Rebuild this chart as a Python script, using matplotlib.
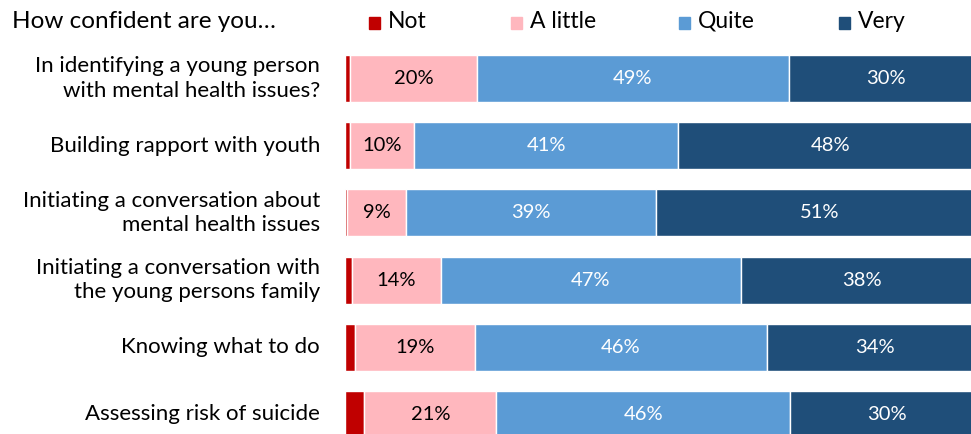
# coding=utf-8
"""
Barras apiladas: confianza en salud mental juvenil
"""

import numpy as np
import matplotlib.pyplot as plt
from matplotlib.patches import Rectangle

# Datos
categorias = [
    "In identifying a young person\nwith mental health issues?",
    "Building rapport with youth",
    "Initiating a conversation about\nmental health issues",
    "Initiating a conversation with\nthe young persons family",
    "Knowing what to do",
    "Assessing risk of suicide",
]
series = ["Not", "A little", "Quite", "Very"]
no_val = [0.8, 0.9, 0.35, 1.25, 1.6, 3.1]
poco_val = [20.0, 10.0, 9.3, 13.8, 18.8, 20.7]
bastante_val = [48.8, 41.4, 39.2, 47.1, 45.8, 46.1]
muy_val = [30.4, 47.7, 51.1, 37.8, 33.8, 30.1]

colores = ["#C00000", "#FFB7BE", "#5B9BD5", "#1F4E79"]
color_texto = [None, "black", "white", "white"]

plt.rcParams['font.family'] = ['Lato', 'DejaVu Sans']

W, H = 971, 434
fig = plt.figure(figsize=(W / 100.0, H / 100.0), dpi=100)

# Eje: barras desde x=344.5 px, 6.38 px por punto porcentual
x0 = 344.5
escala = 6.38
ax = fig.add_axes([x0 / W, 0.0, 1 - x0 / W, 1.0])

paso = 67.2
y0 = 78.5
ypos = np.arange(len(categorias))
alto = 47.0 / paso

valores = [no_val, poco_val, bastante_val, muy_val]
izq = np.zeros(len(categorias))
for k, vals in enumerate(valores):
    vals = np.array(vals, dtype=float)
    ax.barh(ypos, vals, left=izq, height=alto, color=colores[k],
            edgecolor="white", linewidth=1.0)
    if color_texto[k] is not None:
        for i, v in enumerate(vals):
            ax.text(izq[i] + v / 2.0, ypos[i], "%d%%" % round(v),
                    ha="center", va="center", fontsize=14.5,
                    color=color_texto[k])
    izq += vals

ax.set_xlim(0, (W - x0) / escala)
ax.set_ylim((H - y0) / paso, -y0 / paso)
ax.axis("off")

# Etiquetas de categoria
for i, cat in enumerate(categorias):
    fig.text(320.0 / W, 1 - (y0 + paso * i) / H, cat, ha="right",
             va="center", fontsize=16, linespacing=1.3)

# Titulo y leyenda
fig.text(12.0 / W, 1 - 21.0 / H, u"How confident are you\u2026", ha="left",
         va="center", fontsize=17.5)
xs_leyenda = [369, 511, 679, 839]
for k, nombre in enumerate(series):
    fig.patches.append(Rectangle((xs_leyenda[k] / float(W), 1 - 29.0 / H),
                                 11.0 / W, 12.0 / H, transform=fig.transFigure,
                                 color=colores[k]))
    fig.text((xs_leyenda[k] + 19) / float(W), 1 - 21.0 / H, nombre,
             ha="left", va="center", fontsize=16.5)

fig.savefig("out.png", dpi=100)
